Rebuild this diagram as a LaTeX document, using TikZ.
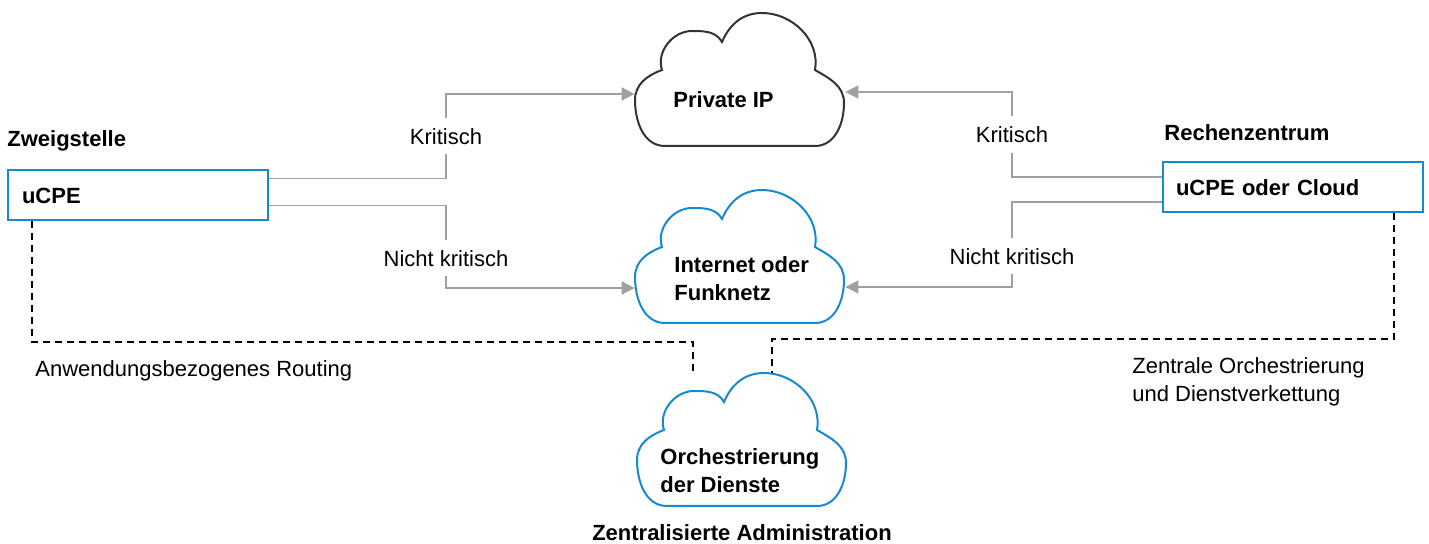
\documentclass[tikz,border=0pt]{standalone}
\usepackage{fontspec}
\setmainfont{Liberation Sans}
\usetikzlibrary{positioning,arrows.meta}
\definecolor{netblue}{RGB}{24,137,206}
\definecolor{netgray}{RGB}{160,160,160}
\definecolor{netdark}{RGB}{51,51,51}

\begin{document}
\begin{tikzpicture}[x=0.5pt,y=-0.5pt,%
		   font=\fontsize{11}{14}\selectfont,
		   site/.style={draw=netblue,line width=1pt,minimum width=130pt,minimum height=25pt,text width=116pt,inner xsep=7pt,align=left,font=\fontsize{11}{14}\selectfont\bfseries},
		   head/.style={inner sep=0pt,font=\fontsize{11}{14}\selectfont\bfseries},
		   cloudbox/.style={minimum width=105pt,minimum height=66.5pt,inner sep=0pt},
		   cloudtext/.style={anchor=west,align=left,inner sep=0pt,font=\fontsize{11}{14}\selectfont\bfseries},
		   flow/.style={draw=netgray,line width=0.9pt,-{Triangle[length=6.5pt,width=6.5pt]}},
		   flowlabel/.style={fill=white,inner xsep=2pt,inner ysep=5pt},
		   ctrl/.style={line width=1pt,dash pattern=on 3.5pt off 2.5pt}]

	\useasboundingbox (0,0) rectangle (1429,544);

	% standorte
	\node[site] (ucpe) at (138,195.5) {uCPE};
	\node[head,above=14.25pt of ucpe.north west,anchor=west] (zweig) {Zweigstelle};
	\node[site,text width=117pt,inner xsep=6.5pt] (rz) at (1293,187.5) {uCPE oder Cloud};
	\node[head,above right=14.5pt and 1pt of rz.north west,anchor=west] (rzhead) {Rechenzentrum};

	% wolken
	\foreach \name/\cx/\cy/\col in {privat/740/80/netdark, netz/740/257/netblue, orch/742/440/netblue} {
	   \node[cloudbox] (\name) at (\cx,\cy) {};
	   \begin{scope}[shift={(\name.center)},x=0.5pt,y=0.5pt]
	      \draw[\col,line width=1pt] (-78,10) to[out=200,in=90] (-105,-20) to[out=-90,in=180] (-75,-66)
	         -- (75,-66) to[out=0,in=-90] (104,-23) to[out=90,in=-30] (75,10)
	         to[out=80,in=0] (22,67) to[out=180,in=67] (-18,38)
	         to[out=120,in=0] (-48,49) to[out=180,in=108] (-78,10) -- cycle;
	   \end{scope}
	}
	\node[cloudtext] (privat-t) at ([xshift=-33.5pt,yshift=-10pt]privat.center) {Private IP};
	\node[cloudtext] (netz-t) at ([xshift=-33pt,yshift=-11pt]netz.center) {Internet oder\\Funknetz};
	\node[cloudtext] (orch-t) at ([xshift=-41pt,yshift=-15.5pt]orch.center) {Orchestrierung\\der Dienste};
	\node[head] (admin) at ([yshift=-12.75pt]orch.south) {Zentralisierte Administration};

	% datenverkehr
	\draw[flow] ([yshift=8.5pt]ucpe.east) -- ++(177,0) |- node[pos=0.25,flowlabel] (lk1) {Kritisch} ([yshift=-7pt]privat.west);
	\draw[flow] ([yshift=-5pt]ucpe.east) -- ++(177,0) |- node[pos=0.32,flowlabel] (lk2) {Nicht kritisch} ([yshift=-15.5pt]netz.west);
	\draw[flow] ([yshift=5.25pt]rz.west) -- ++(-150,0) |- node[pos=0.25,flowlabel] (rk1) {Kritisch} ([yshift=-6pt]privat.east);
	\draw[flow] ([yshift=-7.25pt]rz.west) -- ++(-150,0) |- node[pos=0.32,flowlabel] (rk2) {Nicht kritisch} ([yshift=-15pt]netz.east);

	% steuerung
	\draw[ctrl] ([xshift=12.5pt]ucpe.south west) -- ++(0,121) -| ([xshift=-24.5pt]orch.north);
	\draw[ctrl] ([xshift=-15pt]rz.south east) -- ++(0,125.5) -| ([xshift=15pt]orch.north);
	\node[anchor=west,inner sep=0pt] (routing) at (35,371) {Anwendungsbezogenes Routing};
	\node[anchor=west,align=left,inner sep=0pt] (orchtext) at (1132,382) {Zentrale Orchestrierung\\und Dienstverkettung};
\end{tikzpicture}
\end{document}
